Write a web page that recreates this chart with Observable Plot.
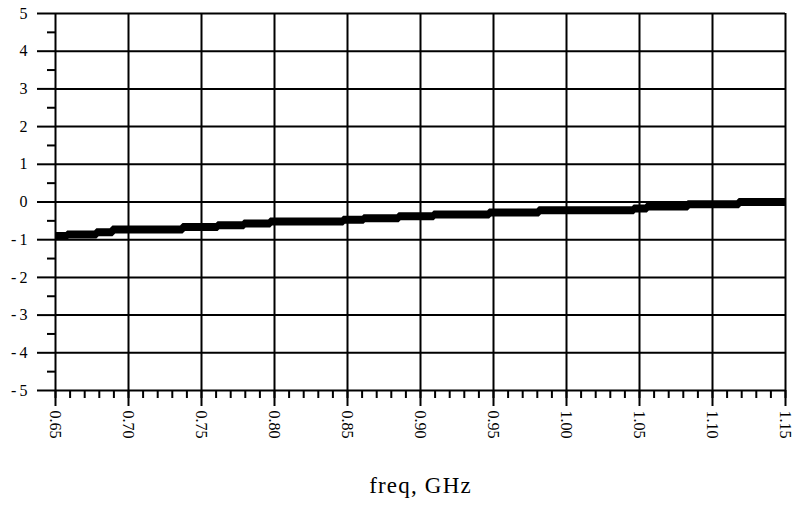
<!DOCTYPE html>
<html>
<head>
<meta charset="utf-8">
<script src="https://cdn.jsdelivr.net/npm/d3@7"></script>
<script src="https://cdn.jsdelivr.net/npm/@observablehq/plot@0.6"></script>
<style>
  html, body { margin: 0; padding: 0; background: #fff; }
</style>
</head>
<body>
<div id="chart"></div>
<script>
// Step trace: start frequency of each level (GHz) and its value
const freq = [0.65, 0.658, 0.678, 0.689, 0.737, 0.761, 0.779, 0.797, 0.847, 0.861, 0.885, 0.909, 0.947, 0.981, 1.046, 1.055, 1.083, 1.118, 1.15];
const level = [-0.90, -0.86, -0.80, -0.73, -0.66, -0.62, -0.57, -0.52, -0.47, -0.43, -0.38, -0.33, -0.28, -0.22, -0.17, -0.12, -0.06, 0.00, 0.00];

const xMajor = [0.65, 0.70, 0.75, 0.80, 0.85, 0.90, 0.95, 1.00, 1.05, 1.10, 1.15];
const xLabels = ["0.65", "0.70", "0.75", "0.80", "0.85", "0.90", "0.95", "1.00", "1.05", "1.10", "1.15"];
const xMinor = d3.range(65, 116).map(d => d / 100);
const yMajor = [-5, -4, -3, -2, -1, 0, 1, 2, 3, 4, 5];
const yMinor = [-4.5, -3.5, -2.5, -1.5, -0.5, 0.5, 1.5, 2.5, 3.5, 4.5];
const xTitle = "freq, GHz";

const data = freq.map((f, i) => ({f, v: level[i]}));
const serif = "Liberation Serif, DejaVu Serif, serif";

const chart = Plot.plot({
  width: 793,
  height: 508,
  marginLeft: 55,
  marginRight: 8,
  marginTop: 13,
  marginBottom: 118,
  style: {fontFamily: serif, fontSize: "16px", color: "#000", background: "#fff"},
  x: {domain: [0.65, 1.15]},
  y: {domain: [-5, 5]},
  marks: [
    Plot.ruleY(yMajor, {stroke: "#000", strokeWidth: 2}),
    Plot.ruleX(xMajor, {stroke: "#000", strokeWidth: 2}),
    Plot.axisY(yMajor, {tickSize: 18, tickPadding: 10, strokeWidth: 2, stroke: "#000",
      tickFormat: d => d < 0 ? "-\u2009" + Math.abs(d) : String(d), label: null, fontSize: 16}),
    Plot.axisY(yMinor, {tickSize: 8, text: null, strokeWidth: 2, stroke: "#000", label: null}),
    Plot.axisX(xMajor, {tickSize: 16, tickPadding: 4, tickRotate: 90, strokeWidth: 2, stroke: "#000",
      tickFormat: (d, i) => xLabels[i], label: null, fontSize: 16}),
    Plot.axisX(xMinor, {tickSize: 8, text: null, strokeWidth: 2, stroke: "#000", label: null}),
    Plot.line(data, {x: "f", y: "v", curve: "step-after", stroke: "#000", strokeWidth: 8,
      strokeLinecap: "butt", strokeLinejoin: "miter"}),
    Plot.text([xTitle], {frameAnchor: "bottom", dy: 102, fontSize: 23, fill: "#000"})
  ]
});
chart.querySelectorAll("text").forEach(t => {
  if (t.textContent === xTitle) t.style.letterSpacing = "1.2px";
});
document.getElementById("chart").appendChild(chart);
</script>
</body>
</html>
